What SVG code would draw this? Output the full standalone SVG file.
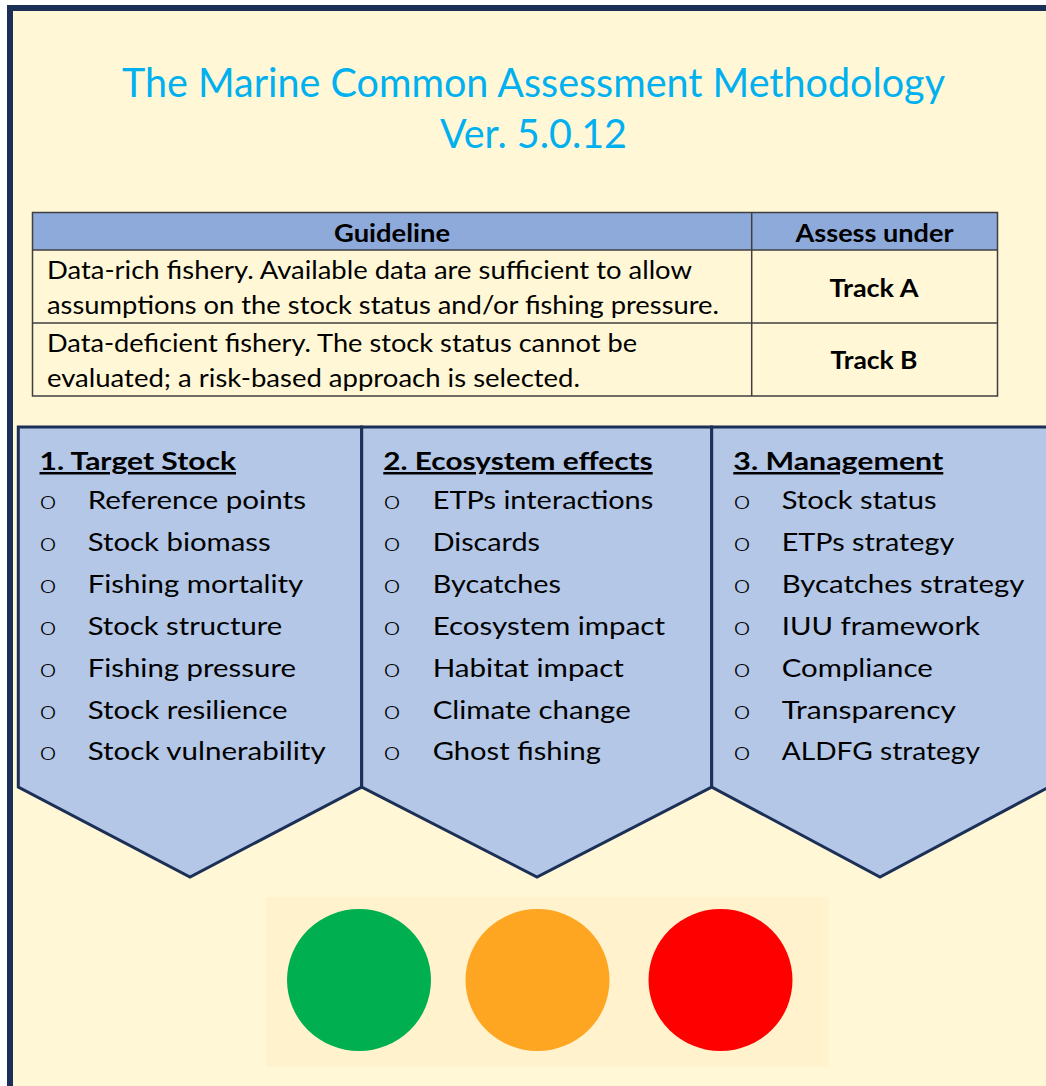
<svg xmlns="http://www.w3.org/2000/svg" width="1046" height="1086" viewBox="0 0 1046 1086">
  <style>
    .title { font-family: Lato, "Liberation Sans", sans-serif; font-size: 40px; fill: #00b0f0; }
    .body { font-family: Lato, "Liberation Sans", sans-serif; font-size: 25px; fill: #000000; }
    .bold { font-family: Lato, "Liberation Sans", sans-serif; font-size: 25px; font-weight: bold; fill: #000000; }
    .head { font-family: Lato, "Liberation Sans", sans-serif; font-size: 25px; font-weight: bold; fill: #000000; text-decoration: underline; }
    .bullet text { font-family: Lato, "Liberation Sans", sans-serif; font-weight: 300; font-size: 25px; fill: #000000; }
    .grid { fill: none; stroke: #3f3f3f; stroke-width: 1.5; }
    .chevron { fill: #b4c7e7; stroke: #1b2f57; stroke-width: 3; stroke-linejoin: miter; }
  </style>

  <!-- page and frame -->
  <rect x="0" y="0" width="1046" height="1086" fill="#ffffff"/>
  <rect x="10" y="8" width="1100" height="1100" fill="#fff7d5" stroke="#1b2f57" stroke-width="6"/>

  <!-- heading -->
  <g id="title">
    <text class="title" x="122" y="97" textLength="823" lengthAdjust="spacingAndGlyphs">The Marine Common Assessment Methodology</text>
    <text class="title" x="440" y="148" textLength="187" lengthAdjust="spacingAndGlyphs">Ver. 5.0.12</text>
  </g>

  <!-- guideline table -->
  <g id="guideline-table">
    <rect x="32.5" y="212.5" width="965" height="37.5" fill="#8eaadb"/>
    <rect class="grid" x="32.5" y="212.5" width="965" height="183.5"/>
    <line class="grid" x1="32.5" y1="250" x2="997.5" y2="250"/>
    <line class="grid" x1="32.5" y1="323" x2="997.5" y2="323"/>
    <line class="grid" x1="751.7" y1="212.5" x2="751.7" y2="396"/>
    <text class="bold" x="392" y="241.5" text-anchor="middle" textLength="116" lengthAdjust="spacingAndGlyphs">Guideline</text>
    <text class="bold" x="874.5" y="241.5" text-anchor="middle" textLength="158" lengthAdjust="spacingAndGlyphs">Assess under</text>
    <text class="body" x="47" y="278.5" textLength="645" lengthAdjust="spacingAndGlyphs">Data-rich fishery. Available data are sufficient to allow</text>
    <text class="body" x="47" y="314" textLength="672" lengthAdjust="spacingAndGlyphs">assumptions on the stock status and/or fishing pressure.</text>
    <text class="body" x="47" y="351.5" textLength="590" lengthAdjust="spacingAndGlyphs">Data-deficient fishery. The stock status cannot be</text>
    <text class="body" x="47" y="387" textLength="533" lengthAdjust="spacingAndGlyphs">evaluated; a risk-based approach is selected.</text>
    <text class="bold" x="874" y="297" text-anchor="middle" textLength="89" lengthAdjust="spacingAndGlyphs">Track A</text>
    <text class="bold" x="874" y="369" text-anchor="middle" textLength="87" lengthAdjust="spacingAndGlyphs">Track B</text>
  </g>

  <!-- assessment areas -->
  <g id="target-stock">
    <path class="chevron" d="M18.3,427 L361.7,427 L361.7,787 L190,877 L18.3,787 Z"/>
    <text class="head" x="39.5" y="470" textLength="196.5" lengthAdjust="spacingAndGlyphs">1. Target Stock</text>
    <g class="bullet">
      <text x="39.5" y="509" textLength="17" lengthAdjust="spacingAndGlyphs">o</text>
      <text x="39.5" y="551" textLength="17" lengthAdjust="spacingAndGlyphs">o</text>
      <text x="39.5" y="593" textLength="17" lengthAdjust="spacingAndGlyphs">o</text>
      <text x="39.5" y="635" textLength="17" lengthAdjust="spacingAndGlyphs">o</text>
      <text x="39.5" y="677" textLength="17" lengthAdjust="spacingAndGlyphs">o</text>
      <text x="39.5" y="719" textLength="17" lengthAdjust="spacingAndGlyphs">o</text>
      <text x="39.5" y="760" textLength="17" lengthAdjust="spacingAndGlyphs">o</text>
    </g>
    <text class="body" x="87.7" y="509" textLength="218.3" lengthAdjust="spacingAndGlyphs">Reference points</text>
    <text class="body" x="87.7" y="551" textLength="183" lengthAdjust="spacingAndGlyphs">Stock biomass</text>
    <text class="body" x="87.7" y="593" textLength="215.6" lengthAdjust="spacingAndGlyphs">Fishing mortality</text>
    <text class="body" x="87.7" y="635" textLength="194.6" lengthAdjust="spacingAndGlyphs">Stock structure</text>
    <text class="body" x="87.7" y="677" textLength="208.3" lengthAdjust="spacingAndGlyphs">Fishing pressure</text>
    <text class="body" x="87.7" y="719" textLength="200" lengthAdjust="spacingAndGlyphs">Stock resilience</text>
    <text class="body" x="87.7" y="760" textLength="238" lengthAdjust="spacingAndGlyphs">Stock vulnerability</text>
  </g>

  <g id="ecosystem-effects">
    <path class="chevron" d="M361.7,427 L711.7,427 L711.7,787 L537,877 L361.7,787 Z"/>
    <text class="head" x="383.3" y="470" textLength="269.4" lengthAdjust="spacingAndGlyphs">2. Ecosystem effects</text>
    <g class="bullet">
      <text x="383.5" y="509" textLength="17" lengthAdjust="spacingAndGlyphs">o</text>
      <text x="383.5" y="551" textLength="17" lengthAdjust="spacingAndGlyphs">o</text>
      <text x="383.5" y="593" textLength="17" lengthAdjust="spacingAndGlyphs">o</text>
      <text x="383.5" y="635" textLength="17" lengthAdjust="spacingAndGlyphs">o</text>
      <text x="383.5" y="677" textLength="17" lengthAdjust="spacingAndGlyphs">o</text>
      <text x="383.5" y="719" textLength="17" lengthAdjust="spacingAndGlyphs">o</text>
      <text x="383.5" y="760" textLength="17" lengthAdjust="spacingAndGlyphs">o</text>
    </g>
    <text class="body" x="432.7" y="509" textLength="220.6" lengthAdjust="spacingAndGlyphs">ETPs interactions</text>
    <text class="body" x="432.7" y="551" textLength="107.3" lengthAdjust="spacingAndGlyphs">Discards</text>
    <text class="body" x="432.7" y="593" textLength="128.3" lengthAdjust="spacingAndGlyphs">Bycatches</text>
    <text class="body" x="432.7" y="635" textLength="232.3" lengthAdjust="spacingAndGlyphs">Ecosystem impact</text>
    <text class="body" x="432.7" y="677" textLength="191.3" lengthAdjust="spacingAndGlyphs">Habitat impact</text>
    <text class="body" x="432.7" y="719" textLength="198" lengthAdjust="spacingAndGlyphs">Climate change</text>
    <text class="body" x="432.7" y="760" textLength="168.3" lengthAdjust="spacingAndGlyphs">Ghost fishing</text>
  </g>

  <g id="management">
    <path class="chevron" d="M711.7,427 L1049,427 L1049,787 L880,877 L711.7,787 Z"/>
    <text class="head" x="733.3" y="470" textLength="210" lengthAdjust="spacingAndGlyphs">3. Management</text>
    <g class="bullet">
      <text x="733.5" y="509" textLength="17" lengthAdjust="spacingAndGlyphs">o</text>
      <text x="733.5" y="551" textLength="17" lengthAdjust="spacingAndGlyphs">o</text>
      <text x="733.5" y="593" textLength="17" lengthAdjust="spacingAndGlyphs">o</text>
      <text x="733.5" y="635" textLength="17" lengthAdjust="spacingAndGlyphs">o</text>
      <text x="733.5" y="677" textLength="17" lengthAdjust="spacingAndGlyphs">o</text>
      <text x="733.5" y="719" textLength="17" lengthAdjust="spacingAndGlyphs">o</text>
      <text x="733.5" y="760" textLength="17" lengthAdjust="spacingAndGlyphs">o</text>
    </g>
    <text class="body" x="781.7" y="509" textLength="155" lengthAdjust="spacingAndGlyphs">Stock status</text>
    <text class="body" x="781.7" y="551" textLength="172.6" lengthAdjust="spacingAndGlyphs">ETPs strategy</text>
    <text class="body" x="781.7" y="593" textLength="242.6" lengthAdjust="spacingAndGlyphs">Bycatches strategy</text>
    <text class="body" x="781.7" y="635" textLength="198.3" lengthAdjust="spacingAndGlyphs">IUU framework</text>
    <text class="body" x="781.7" y="677" textLength="151" lengthAdjust="spacingAndGlyphs">Compliance</text>
    <text class="body" x="781.7" y="719" textLength="174.3" lengthAdjust="spacingAndGlyphs">Transparency</text>
    <text class="body" x="781.7" y="760" textLength="198.3" lengthAdjust="spacingAndGlyphs">ALDFG strategy</text>
  </g>

  <g id="connectors"/>

  <!-- traffic-light scale -->
  <g id="traffic-light">
    <rect x="266" y="897" width="563" height="170" fill="#fff2cc"/>
    <ellipse cx="359" cy="980" rx="72" ry="71" fill="#00b050"/>
    <ellipse cx="537.5" cy="980" rx="72" ry="71" fill="#fea621"/>
    <ellipse cx="720.5" cy="980" rx="72" ry="71" fill="#ff0000"/>
  </g>
</svg>
